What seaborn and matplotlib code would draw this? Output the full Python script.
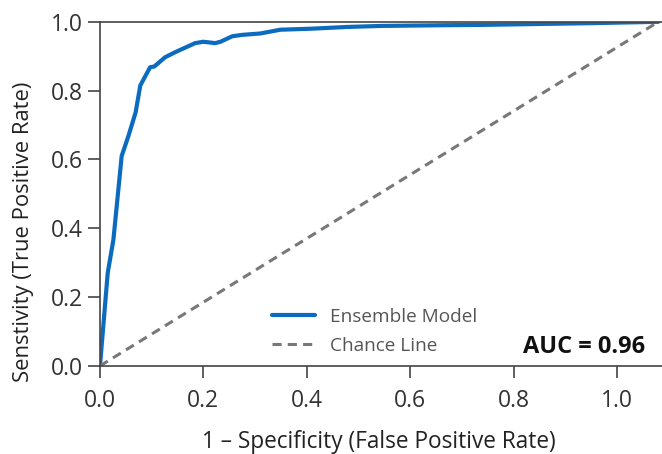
import numpy as np
import pandas as pd
import matplotlib
matplotlib.use("Agg")
import matplotlib.pyplot as plt
import seaborn as sns

# ROC curve
fpr = [0.0, 0.015, 0.026, 0.042, 0.055, 0.069, 0.078, 0.097, 0.105, 0.126,
       0.146, 0.184, 0.200, 0.223, 0.233, 0.256, 0.275, 0.310, 0.349, 0.410,
       0.478, 0.545, 0.660, 0.738, 0.950, 1.080]
tpr = [0.0, 0.270, 0.367, 0.610, 0.668, 0.737, 0.815, 0.868, 0.870, 0.897,
       0.912, 0.938, 0.942, 0.938, 0.942, 0.958, 0.962, 0.966, 0.977, 0.980,
       0.985, 0.988, 0.990, 0.991, 0.996, 1.000]
chance_x = [0.0, 1.08]
chance_y = [0.0, 1.0]
auc = 0.96
ticks = [0.0, 0.2, 0.4, 0.6, 0.8, 1.0]

roc = pd.DataFrame({"fpr": fpr, "tpr": tpr})
chance = pd.DataFrame({"x": chance_x, "y": chance_y})

sns.set_style("white")
plt.rcParams["font.family"] = ["Open Sans", "DejaVu Sans"]

fig = plt.figure(figsize=(6.62, 4.54), dpi=100)
ax = fig.add_axes([0.151, 0.194, 0.849, 0.758])

sns.lineplot(data=roc, x="fpr", y="tpr", ax=ax, color="#0b6cbf", lw=3,
             label="Ensemble Model", sort=False)
sns.lineplot(data=chance, x="x", y="y", ax=ax, color="#787878", lw=2.2,
             ls=(0, (3, 2)), label="Chance Line")

ax.set_xlim(0, 1.087)
ax.set_ylim(0, 1.0)
ax.set_xticks(ticks)
ax.set_yticks(ticks)
ax.set_xticklabels([f"{t:.1f}" for t in ticks])
ax.set_yticklabels([f"{t:.1f}" for t in ticks])
ax.tick_params(axis="both", direction="out", length=8.5, width=1.2,
               color="#444444", labelsize=16.5, labelcolor="#333333",
               bottom=True, left=True)
ax.tick_params(axis="x", pad=8)
ax.tick_params(axis="y", pad=4)
for s in ["left", "bottom", "top"]:
    ax.spines[s].set_color("#444444")
    ax.spines[s].set_linewidth(1.2)
ax.spines["right"].set_visible(False)

ax.set_xlabel("1 \u2013 Specificity (False Positive Rate)", fontsize=16.3,
              color="#222222", va="center")
ax.xaxis.set_label_coords(0.497, -0.221)
ax.set_ylabel("Senstivity (True Positive Rate)", fontsize=15.8,
              color="#222222")
ax.yaxis.set_label_coords(-0.117, 0.391)

leg = ax.legend(loc="center left", bbox_to_anchor=(0.306, 0.100),
                frameon=False, fontsize=13.7, handlelength=2.26,
                labelspacing=0.58, handletextpad=0.8, borderpad=0,
                borderaxespad=0)
for t in leg.get_texts():
    t.set_color("#555555")

ax.text(0.970, 0.055, f"AUC = {auc:.2f}", transform=ax.transAxes,
        ha="right", va="center", fontsize=17, fontweight="bold",
        color="#111111")

fig.savefig("out.png", dpi=100)
